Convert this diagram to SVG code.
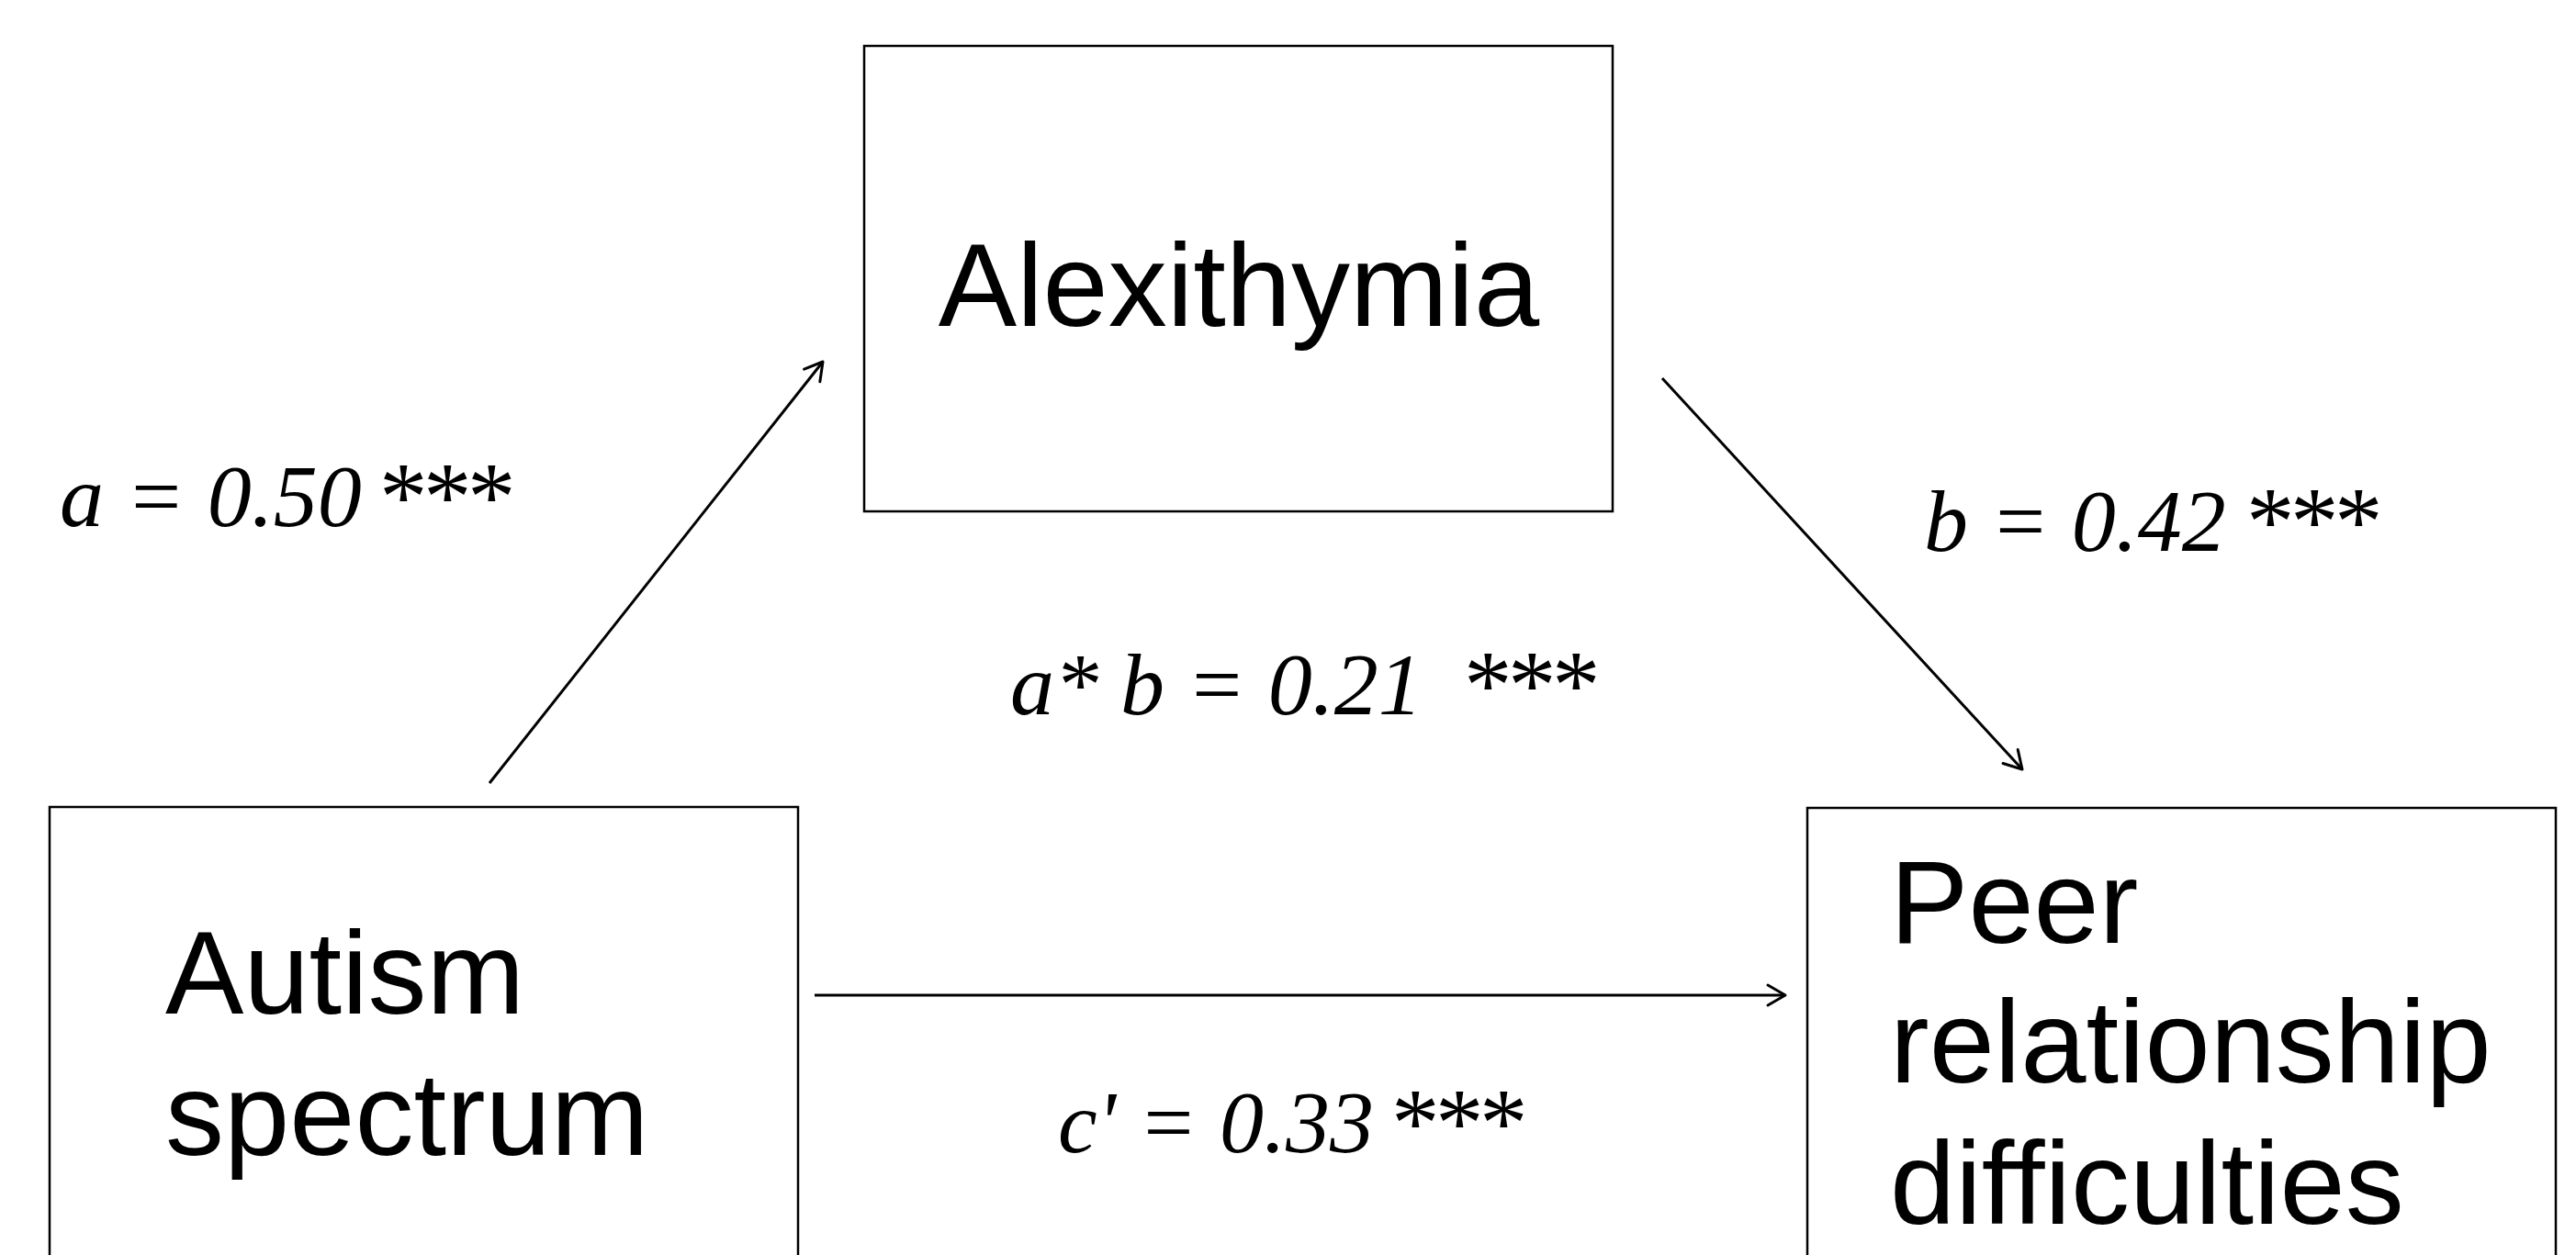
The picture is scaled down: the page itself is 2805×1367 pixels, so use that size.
<svg xmlns="http://www.w3.org/2000/svg" width="2805" height="1367" viewBox="0 0 2805 1367">
<style>
.box{fill:#fff;stroke:#000;stroke-width:2.5}
.node{font-family:"Liberation Sans",Arial,sans-serif;font-size:128px;fill:#000}
.lbl{font-family:"Liberation Serif","Times New Roman",serif;font-style:italic;font-size:96px;fill:#000}
.st{font-style:normal;font-size:105px;letter-spacing:-4.5px}
.conn{stroke:#000;stroke-width:3;fill:none}
</style>
<defs>
<marker id="arr" markerUnits="userSpaceOnUse" markerWidth="30" markerHeight="30" viewBox="-25 -15 30 30" refX="0" refY="0" orient="auto" overflow="visible">
<path d="M-19,-11 L0,0 L-19,11" fill="none" stroke="#000" stroke-width="3" stroke-linecap="round" stroke-linejoin="round"/>
</marker>
</defs>
<rect width="2805" height="1367" fill="#fff"/>
<g id="node-alexithymia">
<rect class="box" x="941" y="50" width="815" height="507"/>
<text class="node" x="1349" y="355" text-anchor="middle">Alexithymia</text>
</g>
<g id="node-autism">
<rect class="box" x="54" y="879" width="815" height="520"/>
<text class="node" x="180" y="1104">Autism</text>
<text class="node" x="180" y="1258">spectrum</text>
</g>
<g id="node-peer">
<rect class="box" x="1968" y="880" width="815" height="520"/>
<text class="node" x="2058" y="1027">Peer</text>
<text class="node" x="2058" y="1179">relationship</text>
<text class="node" x="2058" y="1333">difficulties</text>
</g>
<g id="connectors">
<line class="conn" x1="533" y1="853" x2="896" y2="394" marker-end="url(#arr)"/>
<line class="conn" x1="1810" y1="412" x2="2202" y2="838" marker-end="url(#arr)"/>
<line class="conn" x1="887" y1="1084" x2="1944" y2="1084" marker-end="url(#arr)"/>
</g>
<g id="labels">
<text class="lbl" x="65" y="573">a = 0.50 <tspan class="st" x="413" dy="4">***</tspan></text>
<text class="lbl" x="1100" y="778">a* b = 0.21 <tspan class="st" x="1594" dy="4">***</tspan></text>
<text class="lbl" x="2095" y="600">b = 0.42 <tspan class="st" x="2446" dy="4">***</tspan></text>
<text class="lbl" x="1152" y="1255">c' = 0.33 <tspan class="st" x="1515" dy="4">***</tspan></text>
</g>
</svg>
